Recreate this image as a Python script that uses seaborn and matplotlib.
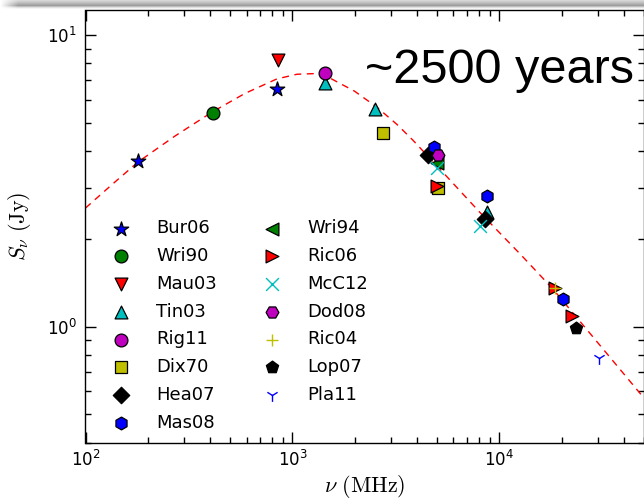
import numpy as np
import pandas as pd
import matplotlib
matplotlib.use("Agg")
import matplotlib.pyplot as plt
import seaborn as sns
from matplotlib.ticker import LogLocator, NullFormatter

# ---- model spectrum (dashed curve) ----
model_freq = [100, 134, 179.5, 272, 413, 589, 841, 1052, 1259, 1517, 1995,
              2559, 3199, 3819, 5572, 8054, 12850, 18110, 28310, 50000]
model_flux = [2.553, 3.069, 3.673, 4.519, 5.470, 6.310, 7.079, 7.345, 7.379,
              7.129, 6.427, 5.662, 4.943, 4.365, 3.273, 2.466, 1.750, 1.349,
              0.923, 0.569]

# ---- flux density measurements ----
ref_order = ["Bur06", "Wri90", "Mau03", "Tin03", "Rig11", "Dix70", "Hea07",
             "Mas08", "Wri94", "Ric06", "McC12", "Dod08", "Ric04", "Lop07",
             "Pla11"]
point_ref = ["Bur06", "Bur06", "Wri90", "Mau03", "Tin03", "Tin03", "Tin03",
             "Rig11", "Dix70", "Dix70", "Hea07", "Hea07", "Mas08", "Mas08",
             "Mas08", "Wri94", "Ric06", "Ric06", "Ric06", "McC12", "McC12",
             "Dod08", "Ric04", "Lop07", "Pla11"]
point_freq = [179.5, 841, 413, 851, 1436, 2506, 8710,
              1436, 2735, 5050, 4520, 8510, 4830, 8710,
              20290, 4990, 4990, 18530, 22400, 5000, 8050,
              5050, 18530, 23440, 30270]
point_flux = [3.69, 6.52, 5.40, 8.2, 6.84, 5.57, 2.47,
              7.40, 4.61, 2.98, 3.87, 2.35, 4.12, 2.80,
              1.24, 3.63, 3.05, 1.36, 1.09, 3.49, 2.22,
              3.87, 1.36, 0.99, 0.78]

# marker style per reference
ref_marker = {"Bur06": "*", "Wri90": "o", "Mau03": "v", "Tin03": "^",
              "Rig11": "o", "Dix70": "s", "Hea07": "D", "Mas08": "h",
              "Wri94": "<", "Ric06": ">", "McC12": "x", "Dod08": "H",
              "Ric04": "+", "Lop07": "p", "Pla11": "1"}
ref_color = {"Bur06": "b", "Wri90": "g", "Mau03": "r", "Tin03": "c",
             "Rig11": "m", "Dix70": "y", "Hea07": "k", "Mas08": "b",
             "Wri94": "g", "Ric06": "r", "McC12": "c", "Dod08": "m",
             "Ric04": "y", "Lop07": "k", "Pla11": "b"}

df = pd.DataFrame({"ref": point_ref, "freq": point_freq, "flux": point_flux})

sns.set_style("ticks")
plt.rcParams["font.family"] = ["DejaVu Sans"]
plt.rcParams["mathtext.fontset"] = "cm"
for key in ("text.color", "axes.labelcolor", "xtick.color", "ytick.color",
            "axes.edgecolor"):
    plt.rcParams[key] = "black"

W, H = 644, 498
fig = plt.figure(figsize=(W / 100, H / 100), dpi=100)

# soft grey shadow strip along the top edge
band_h = 11
rows = np.array([0.84, 0.80, 0.76, 0.71, 0.66, 0.62, 0.74, 0.88, 0.96, 1.0, 1.0])
cols = np.clip(np.arange(W) / 18.0, 0, 1)
band = 1 - (1 - rows[:, None]) * cols[None, :]
bax = fig.add_axes([0, 1 - band_h / H, 1, band_h / H])
bax.imshow(band, cmap="gray", vmin=0, vmax=1, aspect="auto",
           interpolation="bilinear")
bax.axis("off")

left, right, top, bottom = 85.5, 644.0, 10.0, 442.7
ax = fig.add_axes([left / W, (H - bottom) / H, (right - left) / W,
                   (bottom - top) / H])
ax.set_xscale("log")
ax.set_yscale("log")

sns.lineplot(x=model_freq, y=model_flux, sort=False, estimator=None,
             color="red", linewidth=1.0, linestyle=(0, (5, 4)),
             legend=False, ax=ax, zorder=1)

line_art = {"x", "+", "1"}
for name in ref_order:
    sub = df[df["ref"] == name]
    m = ref_marker[name]
    kws = dict(marker=m, color=ref_color[name], s=85, ax=ax, label=name,
               zorder=3)
    if m in line_art:
        kws.update(linewidth=1.0)
    else:
        kws.update(edgecolor="black", linewidth=0.9)
    if m == "*":
        kws["s"] = 120
    if m == "D":
        kws["s"] = 70
    sns.scatterplot(data=sub, x="freq", y="flux", **kws)

ax.set_xlim(100, 5e4)
ax.set_ylim(0.4, 12.2)

ax.xaxis.set_major_locator(LogLocator(base=10))
ax.xaxis.set_minor_locator(LogLocator(base=10, subs=np.arange(2, 10)))
ax.yaxis.set_major_locator(LogLocator(base=10))
ax.yaxis.set_minor_locator(LogLocator(base=10, subs=np.arange(2, 10)))
ax.xaxis.set_minor_formatter(NullFormatter())
ax.yaxis.set_minor_formatter(NullFormatter())

ax.tick_params(which="both", direction="in", top=True, right=True,
               labelsize=12, width=1, color="black", labelcolor="black")
ax.tick_params(which="major", length=8)
ax.tick_params(which="minor", length=4)
ax.tick_params(axis="x", pad=5)
ax.tick_params(axis="y", pad=6)
for sp in ax.spines.values():
    sp.set_linewidth(1.0)
    sp.set_color("black")

ax.set_xlabel(r"$\nu\ (\mathrm{MHz})$", fontsize=16, labelpad=2,
              color="black")
ax.set_ylabel(r"$S_{\nu}\ (\mathrm{Jy})$", fontsize=16, labelpad=10,
              color="black")

leg = ax.legend(ncol=2, loc="upper left", bbox_to_anchor=(0.041, 0.516),
                frameon=False, fontsize=13, handlelength=1.4,
                handletextpad=1.24, columnspacing=2.35, labelspacing=0.54,
                borderpad=0, borderaxespad=0, scatterpoints=1)
for t in leg.get_texts():
    t.set_color("black")

fig.text(365 / W, (H - 83) / H, "~2500 years", fontsize=35, color="black",
         family=["Liberation Sans", "DejaVu Sans"], ha="left", va="baseline")

fig.savefig("out.png", dpi=100)
